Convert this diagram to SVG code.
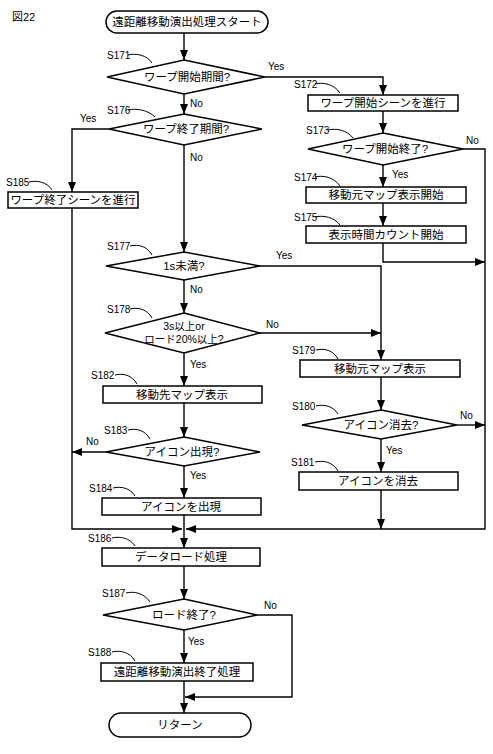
<svg xmlns="http://www.w3.org/2000/svg" width="493" height="754" viewBox="0 0 493 754">
<defs>
<style>
.s{fill:#fff;stroke:#000;stroke-width:1.5}
.c{fill:none;stroke:#000;stroke-width:1.4}
.ld{fill:none;stroke:#000;stroke-width:1}
.t{font-family:"Liberation Sans","Noto Sans CJK JP",sans-serif;font-size:11.5px;text-anchor:middle;fill:#000}
.l{font-family:"Liberation Sans","Noto Sans CJK JP",sans-serif;font-size:10px;fill:#000}
</style>
<marker id="a" viewBox="0 0 10 8" refX="10" refY="4" markerWidth="10" markerHeight="8" markerUnits="userSpaceOnUse" orient="auto">
<path d="M0,0 L10,4 L0,8 Z" fill="#000"/>
</marker>
</defs>
<rect width="493" height="754" fill="#fff"/>
<text class="l" x="12" y="21" style="font-size:11px">図22</text>

<g id="connectors">
<path class="c" d="M184,33 V60" marker-end="url(#a)"/>
<path class="c" d="M184,94 V114" marker-end="url(#a)"/>
<path class="c" d="M265,77 H383 V95" marker-end="url(#a)"/>
<path class="c" d="M383,111 V133" marker-end="url(#a)"/>
<path class="c" d="M383,165 V187" marker-end="url(#a)"/>
<path class="c" d="M383,203 V226" marker-end="url(#a)"/>
<path class="c" d="M383,243 V262 H485" marker-end="url(#a)"/>
<path class="c" d="M463,149 H485 V529 H186" marker-end="url(#a)"/>
<path class="c" d="M184,145 V252" marker-end="url(#a)"/>
<path class="c" d="M109,129 H72 V192" marker-end="url(#a)"/>
<path class="c" d="M72,208 V529 H182" marker-end="url(#a)"/>
<path class="c" d="M260,266 H381 V360" marker-end="url(#a)"/>
<path class="c" d="M184,280 V313" marker-end="url(#a)"/>
<path class="c" d="M260,333 H381" marker-end="url(#a)"/>
<path class="c" d="M184,353 V386" marker-end="url(#a)"/>
<path class="c" d="M381,377 V410" marker-end="url(#a)"/>
<path class="c" d="M457,425 H485" marker-end="url(#a)"/>
<path class="c" d="M381,439 V472" marker-end="url(#a)"/>
<path class="c" d="M381,490 V529" marker-end="url(#a)"/>
<path class="c" d="M184,403 V437" marker-end="url(#a)"/>
<path class="c" d="M106,452 H72" marker-end="url(#a)"/>
<path class="c" d="M184,466 V498" marker-end="url(#a)"/>
<path class="c" d="M184,515 V548" marker-end="url(#a)"/>
<path class="c" d="M184,566 V599" marker-end="url(#a)"/>
<path class="c" d="M184,630 V663" marker-end="url(#a)"/>
<path class="c" d="M257,615 H292 V697 H185" marker-end="url(#a)"/>
<path class="c" d="M184,681 V713" marker-end="url(#a)"/>
<text class="l" x="190" y="107">No</text>
<text class="l" x="268" y="70">Yes</text>
<text class="l" x="392" y="178">Yes</text>
<text class="l" x="466" y="144">No</text>
<text class="l" x="190" y="161">No</text>
<text class="l" x="80" y="122">Yes</text>
<text class="l" x="276" y="259">Yes</text>
<text class="l" x="190" y="293">No</text>
<text class="l" x="266" y="328">No</text>
<text class="l" x="190" y="368">Yes</text>
<text class="l" x="460" y="419">No</text>
<text class="l" x="386" y="454">Yes</text>
<text class="l" x="86" y="445">No</text>
<text class="l" x="190" y="479">Yes</text>
<text class="l" x="264" y="609">No</text>
<text class="l" x="188" y="645">Yes</text>
</g>

<g id="start">
<rect class="s" x="106" y="11" width="162" height="22" rx="11"/>
<text class="t" x="187" y="26">遠距離移動演出処理スタート</text>
</g>
<g id="S171">
<polygon class="s" points="184,60 265,77 184,94 107,77"/>
<text class="t" x="187" y="81">ワープ開始期間?</text>
<text class="l" x="107" y="59">S171</text>
<path class="ld" d="M128,55 C136,53 147,55 152,63"/>
</g>
<g id="S172">
<rect class="s" x="308" y="95" width="150" height="16"/>
<text class="t" x="383" y="107">ワープ開始シーンを進行</text>
<text class="l" x="294" y="88">S172</text>
<path class="ld" d="M315,84 C323,82 334,84 340,93"/>
</g>
<g id="S173">
<polygon class="s" points="383,133 463,149 383,165 308,149"/>
<text class="t" x="385" y="153">ワープ開始終了?</text>
<text class="l" x="306" y="134">S173</text>
<path class="ld" d="M328,130 C336,128 347,130 353,138"/>
</g>
<g id="S174">
<rect class="s" x="306" y="187" width="160" height="16"/>
<text class="t" x="386" y="199">移動元マップ表示開始</text>
<text class="l" x="294" y="181">S174</text>
<path class="ld" d="M315,177 C323,175 334,177 340,186"/>
</g>
<g id="S175">
<rect class="s" x="306" y="226" width="160" height="17"/>
<text class="t" x="386" y="239">表示時間カウント開始</text>
<text class="l" x="294" y="221">S175</text>
<path class="ld" d="M315,217 C323,215 334,217 340,225"/>
</g>
<g id="S176">
<polygon class="s" points="184,114 262,129 184,145 109,129"/>
<text class="t" x="186" y="133">ワープ終了期間?</text>
<text class="l" x="107" y="114">S176</text>
<path class="ld" d="M128,110 C136,108 148,110 155,117"/>
</g>
<g id="S185">
<rect class="s" x="8" y="192" width="130" height="16"/>
<text class="t" x="73" y="204">ワープ終了シーンを進行</text>
<text class="l" x="6" y="186">S185</text>
<path class="ld" d="M29,182 C37,180 47,182 52,190"/>
</g>
<g id="S177">
<polygon class="s" points="184,252 260,266 184,280 106,266"/>
<text class="t" x="184" y="270">1s未満?</text>
<text class="l" x="107" y="250">S177</text>
<path class="ld" d="M130,246 C138,244 147,246 152,255"/>
</g>
<g id="S178">
<polygon class="s" points="184,313 260,333 184,353 105,333"/>
<text class="t" x="184" y="330" style="font-size:10.5px">3s以上or</text>
<text class="t" x="184" y="343" style="font-size:10.5px">ロード20%以上?</text>
<text class="l" x="107" y="313">S178</text>
<path class="ld" d="M130,309 C138,307 147,309 152,318"/>
</g>
<g id="S179">
<rect class="s" x="300" y="360" width="160" height="17"/>
<text class="t" x="380" y="373">移動元マップ表示</text>
<text class="l" x="292" y="354">S179</text>
<path class="ld" d="M316,350 C324,348 333,350 338,359"/>
</g>
<g id="S180">
<polygon class="s" points="381,410 457,425 381,439 302,425"/>
<text class="t" x="381" y="429">アイコン消去?</text>
<text class="l" x="292" y="410">S180</text>
<path class="ld" d="M316,406 C324,404 333,406 338,414"/>
</g>
<g id="S181">
<rect class="s" x="299" y="472" width="159" height="18"/>
<text class="t" x="378" y="485">アイコンを消去</text>
<text class="l" x="291" y="466">S181</text>
<path class="ld" d="M315,462 C323,460 333,462 338,471"/>
</g>
<g id="S182">
<rect class="s" x="103" y="386" width="159" height="17"/>
<text class="t" x="182" y="399">移動先マップ表示</text>
<text class="l" x="91" y="379">S182</text>
<path class="ld" d="M115,375 C123,373 132,375 137,384"/>
</g>
<g id="S183">
<polygon class="s" points="184,437 260,452 184,466 106,452"/>
<text class="t" x="182" y="456">アイコン出現?</text>
<text class="l" x="104" y="434">S183</text>
<path class="ld" d="M128,430 C136,428 145,430 150,439"/>
</g>
<g id="S184">
<rect class="s" x="102" y="498" width="159" height="17"/>
<text class="t" x="181" y="511">アイコンを出現</text>
<text class="l" x="89" y="492">S184</text>
<path class="ld" d="M113,488 C121,486 130,488 135,496"/>
</g>
<g id="S186">
<rect class="s" x="102" y="548" width="158" height="18"/>
<text class="t" x="181" y="561">データロード処理</text>
<text class="l" x="88" y="542">S186</text>
<path class="ld" d="M112,538 C120,536 130,538 135,546"/>
</g>
<g id="S187">
<polygon class="s" points="184,599 257,615 184,630 103,615"/>
<text class="t" x="184" y="619">ロード終了?</text>
<text class="l" x="102" y="597">S187</text>
<path class="ld" d="M126,593 C134,591 144,593 150,602"/>
</g>
<g id="S188">
<rect class="s" x="101" y="663" width="152" height="18"/>
<text class="t" x="177" y="676">遠距離移動演出終了処理</text>
<text class="l" x="88" y="656">S188</text>
<path class="ld" d="M112,652 C120,650 130,652 135,661"/>
</g>
<g id="return">
<rect class="s" x="109" y="713" width="142" height="24" rx="12"/>
<text class="t" x="180" y="729">リターン</text>
</g>
</svg>
